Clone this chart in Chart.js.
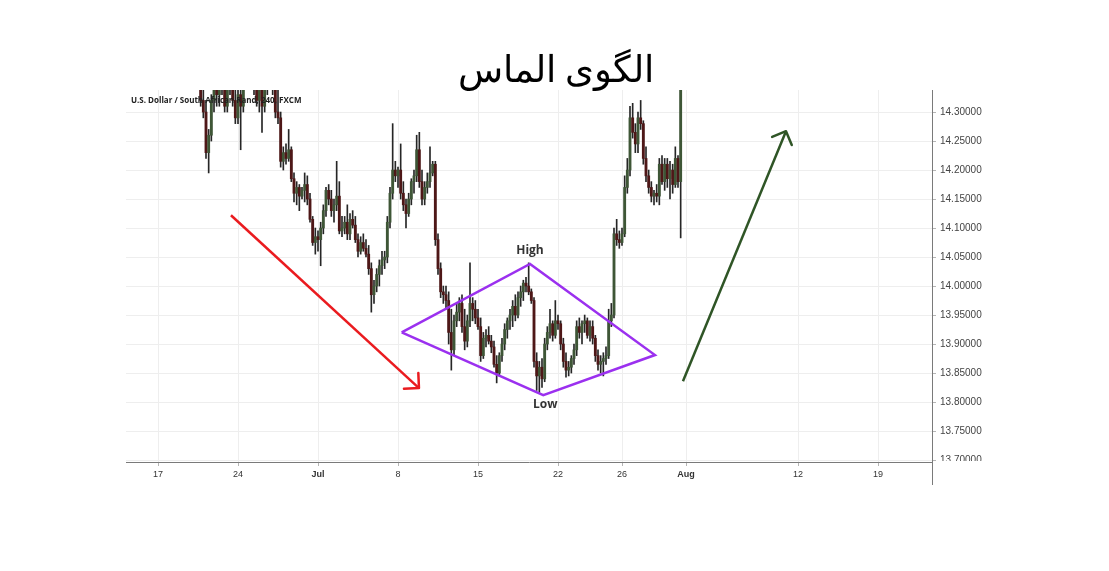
<!DOCTYPE html>
<html>
<head>
<meta charset="utf-8">
<script src="https://cdn.jsdelivr.net/npm/chart.js@4.4.1/dist/chart.umd.min.js"></script>
<style>
    html, body { margin: 0; padding: 0; background: #ffffff; }
    canvas { display: block; }
</style>
</head>
<body>
<canvas id="diamondChart" width="1109" height="571" style="width:1109px;height:571px"></canvas>
<script>
// ========== DADOS: USD/ZAR 4H (velas) ==========
const FIRST_BAR = 16;      // primeira vela = barra 16 contando de 17 jun
const BARS_PER_DAY = 6;    // velas de 4 horas por dia útil

const opens = [
    14.36, 14.32, 14.30, 14.23, 14.26, 14.32, 14.35, 14.33, 14.36, 14.34,
    14.31, 14.35, 14.37, 14.32, 14.29, 14.33, 14.31, 14.36, 14.38, 14.39,
    14.35, 14.37, 14.32, 14.34, 14.31, 14.34, 14.37, 14.39, 14.34, 14.30,
    14.29, 14.215, 14.23, 14.22, 14.235, 14.185, 14.16, 14.17, 14.155, 14.165,
    14.175, 14.15, 14.115, 14.075, 14.085, 14.08, 14.10, 14.13, 14.165, 14.15,
    14.13, 14.14, 14.155, 14.095, 14.10, 14.11, 14.09, 14.115, 14.105, 14.08,
    14.06, 14.075, 14.065, 14.055, 14.03, 13.985, 14.00, 14.02, 14.035, 14.045,
    14.05, 14.11, 14.16, 14.20, 14.19, 14.20, 14.16, 14.14, 14.125, 14.15,
    14.18, 14.19, 14.235, 14.18, 14.15, 14.17, 14.18, 14.195, 14.21, 14.08,
    14.03, 13.99, 13.985, 13.975, 13.92, 13.89, 13.94, 13.955, 13.97, 13.93,
    13.905, 13.94, 13.97, 13.96, 13.945, 13.93, 13.88, 13.91, 13.915, 13.905,
    13.895, 13.865, 13.85, 13.88, 13.90, 13.925, 13.94, 13.95, 13.965, 13.95,
    13.98, 13.99, 14.005, 14.00, 13.99, 13.975, 13.87, 13.845, 13.86, 13.84,
    13.90, 13.92, 13.935, 13.915, 13.94, 13.935, 13.90, 13.87, 13.855, 13.86,
    13.875, 13.89, 13.93, 13.92, 13.935, 13.94, 13.915, 13.93, 13.91, 13.88,
    13.865, 13.87, 13.875, 13.88, 13.94, 13.95, 14.09, 14.08, 14.075, 14.09,
    14.17, 14.20, 14.29, 14.265, 14.245, 14.29, 14.28, 14.22, 14.19, 14.17,
    14.155, 14.16, 14.155, 14.21, 14.18, 14.21, 14.185, 14.20, 14.175, 14.22,
    14.18
];
const highs = [
    14.40, 14.37, 14.32, 14.27, 14.33, 14.37, 14.39, 14.38, 14.40, 14.37,
    14.36, 14.39, 14.40, 14.36, 14.34, 14.35, 14.37, 14.40, 14.41, 14.42,
    14.39, 14.40, 14.36, 14.37, 14.35, 14.39, 14.41, 14.42, 14.37, 14.34,
    14.30, 14.24, 14.245, 14.27, 14.24, 14.195, 14.18, 14.175, 14.17, 14.195,
    14.19, 14.16, 14.12, 14.10, 14.095, 14.11, 14.14, 14.17, 14.175, 14.165,
    14.15, 14.215, 14.18, 14.12, 14.12, 14.14, 14.125, 14.13, 14.12, 14.09,
    14.085, 14.09, 14.08, 14.07, 14.04, 14.01, 14.03, 14.045, 14.06, 14.06,
    14.12, 14.17, 14.28, 14.215, 14.205, 14.245, 14.18, 14.15, 14.16, 14.185,
    14.20, 14.26, 14.265, 14.20, 14.18, 14.195, 14.24, 14.215, 14.215, 14.09,
    14.04, 14.00, 14.00, 13.99, 13.96, 13.95, 13.97, 13.98, 13.985, 13.96,
    13.95, 14.04, 13.98, 13.975, 13.96, 13.945, 13.92, 13.925, 13.93, 13.915,
    13.905, 13.88, 13.885, 13.91, 13.935, 13.945, 13.96, 13.975, 13.985, 13.99,
    14.00, 14.01, 14.015, 14.04, 13.995, 13.98, 13.885, 13.87, 13.875, 13.91,
    13.93, 13.96, 13.94, 13.975, 13.95, 13.94, 13.91, 13.885, 13.87, 13.88,
    13.90, 13.94, 13.945, 13.94, 13.95, 13.945, 13.94, 13.94, 13.915, 13.89,
    13.88, 13.885, 13.895, 13.96, 13.97, 14.10, 14.115, 14.095, 14.10, 14.19,
    14.22, 14.31, 14.315, 14.28, 14.30, 14.32, 14.285, 14.24, 14.20, 14.18,
    14.165, 14.175, 14.22, 14.225, 14.22, 14.22, 14.215, 14.21, 14.24, 14.225,
    14.40
];
const lows = [
    14.31, 14.29, 14.22, 14.195, 14.25, 14.30, 14.31, 14.31, 14.33, 14.30,
    14.30, 14.33, 14.31, 14.28, 14.28, 14.235, 14.30, 14.34, 14.35, 14.34,
    14.33, 14.31, 14.30, 14.265, 14.30, 14.33, 14.35, 14.33, 14.29, 14.28,
    14.205, 14.20, 14.21, 14.215, 14.18, 14.145, 14.14, 14.13, 14.15, 14.145,
    14.14, 14.11, 14.07, 14.055, 14.06, 14.035, 14.09, 14.12, 14.14, 14.12,
    14.11, 14.13, 14.09, 14.085, 14.09, 14.08, 14.08, 14.10, 14.075, 14.05,
    14.055, 14.06, 14.05, 14.02, 13.955, 13.97, 13.99, 14.00, 14.02, 14.03,
    14.04, 14.10, 14.15, 14.18, 14.17, 14.15, 14.13, 14.10, 14.12, 14.14,
    14.16, 14.18, 14.17, 14.14, 14.14, 14.16, 14.17, 14.19, 14.07, 14.02,
    13.98, 13.97, 13.96, 13.90, 13.855, 13.88, 13.93, 13.94, 13.92, 13.89,
    13.895, 13.93, 13.94, 13.935, 13.925, 13.87, 13.875, 13.895, 13.90, 13.885,
    13.86, 13.833, 13.845, 13.87, 13.89, 13.91, 13.925, 13.93, 13.94, 13.945,
    13.965, 13.975, 13.99, 13.985, 13.97, 13.86, 13.82, 13.816, 13.825, 13.835,
    13.89, 13.91, 13.905, 13.91, 13.925, 13.89, 13.86, 13.843, 13.845, 13.85,
    13.865, 13.88, 13.91, 13.90, 13.92, 13.91, 13.905, 13.90, 13.87, 13.855,
    13.85, 13.845, 13.865, 13.875, 13.93, 13.945, 14.07, 14.065, 14.07, 14.085,
    14.16, 14.19, 14.255, 14.23, 14.23, 14.27, 14.21, 14.18, 14.16, 14.145,
    14.14, 14.145, 14.14, 14.175, 14.165, 14.17, 14.15, 14.16, 14.17, 14.17,
    14.083
];
const closes = [
    14.32, 14.30, 14.23, 14.26, 14.32, 14.35, 14.33, 14.36, 14.34, 14.31,
    14.35, 14.37, 14.32, 14.29, 14.33, 14.31, 14.36, 14.38, 14.39, 14.35,
    14.37, 14.32, 14.34, 14.31, 14.34, 14.37, 14.39, 14.34, 14.30, 14.29,
    14.215, 14.23, 14.22, 14.235, 14.185, 14.16, 14.17, 14.155, 14.165, 14.175,
    14.15, 14.115, 14.075, 14.085, 14.08, 14.10, 14.13, 14.165, 14.15, 14.13,
    14.14, 14.155, 14.095, 14.10, 14.11, 14.09, 14.115, 14.105, 14.08, 14.06,
    14.075, 14.065, 14.055, 14.03, 13.985, 14.00, 14.02, 14.035, 14.045, 14.05,
    14.11, 14.16, 14.20, 14.19, 14.20, 14.16, 14.14, 14.125, 14.15, 14.18,
    14.19, 14.235, 14.18, 14.15, 14.17, 14.18, 14.195, 14.21, 14.08, 14.03,
    13.99, 13.985, 13.975, 13.92, 13.89, 13.94, 13.955, 13.97, 13.93, 13.905,
    13.94, 13.97, 13.96, 13.945, 13.93, 13.88, 13.91, 13.915, 13.905, 13.895,
    13.865, 13.85, 13.88, 13.90, 13.925, 13.94, 13.95, 13.965, 13.95, 13.98,
    13.99, 14.005, 14.00, 13.99, 13.975, 13.87, 13.845, 13.86, 13.84, 13.90,
    13.92, 13.935, 13.915, 13.94, 13.935, 13.90, 13.87, 13.855, 13.86, 13.875,
    13.89, 13.93, 13.92, 13.935, 13.94, 13.915, 13.93, 13.91, 13.88, 13.865,
    13.87, 13.875, 13.88, 13.94, 13.95, 14.09, 14.08, 14.075, 14.09, 14.17,
    14.20, 14.29, 14.265, 14.245, 14.29, 14.28, 14.22, 14.19, 14.17, 14.155,
    14.16, 14.155, 14.21, 14.18, 14.21, 14.185, 14.20, 14.175, 14.22, 14.18,
    14.36
];

// eixo X em dias úteis contados a partir de 17 jun
const tickDays = [0, 5, 10, 15, 20, 25, 29, 33, 40, 45];
const tickLabels = ['17', '24', 'Jul', '8', '15', '22', '26', 'Aug', '12', '19'];
const monthLabels = ['Jul', 'Aug'];
const priceTicks = [13.70, 13.75, 13.80, 13.85, 13.90, 13.95, 14.00, 14.05, 14.10, 14.15, 14.20, 14.25, 14.30];

// desenhos por cima do gráfico (dia útil, preço)
const redArrowX = [4.56, 16.31];
const redArrowY = [14.122, 13.824];
const diamondX = [15.23, 23.25, 31.06, 24.08, 15.23];
const diamondY = [13.920, 14.038, 13.881, 13.812, 13.920];
const greenArrowX = [32.81, 39.25];
const greenArrowY = [13.836, 14.267];

const TITLE = 'الگوی الماس';
const SOURCE = 'U.S. Dollar / South African Rand, 240, FXCM';

const COLORS = {
    up: '#3e5636',
    down: '#4e1717',
    wick: '#262626',
    red: '#ea1b1f',
    purple: '#9b30ef',
    green: '#2f5526',
    grid: '#eeeeee',
    axis: '#7a7a7a',
    text: '#333333'
};

const barX = k => (FIRST_BAR + k) / BARS_PER_DAY;
const toPoints = (xs, ys) => xs.map((x, i) => ({ x: x, y: ys[i] }));

// ========== PLUGINS ==========
const decorPlugin = {
    id: 'decor',
    afterDatasetsDraw(chart) {
        const ctx = chart.ctx;
        const area = chart.chartArea;
        ctx.save();

        // pontas das setas
        chart.data.datasets.forEach((ds, i) => {
            if (!ds.arrow) return;
            const pts = chart.getDatasetMeta(i).data;
            const a = pts[pts.length - 2], b = pts[pts.length - 1];
            const ang = Math.atan2(b.y - a.y, b.x - a.x);
            const len = 15;
            ctx.strokeStyle = ds.borderColor;
            ctx.lineWidth = ds.borderWidth;
            ctx.lineCap = 'round';
            ctx.lineJoin = 'round';
            ctx.beginPath();
            ctx.moveTo(b.x - len * Math.cos(ang - Math.PI / 4), b.y - len * Math.sin(ang - Math.PI / 4));
            ctx.lineTo(b.x, b.y);
            ctx.lineTo(b.x - len * Math.cos(ang + Math.PI / 4), b.y - len * Math.sin(ang + Math.PI / 4));
            ctx.stroke();
        });

        // rótulos High / Low no losango
        const dIdx = chart.data.datasets.findIndex(ds => ds.diamond);
        if (dIdx >= 0) {
            const pts = chart.getDatasetMeta(dIdx).data;
            ctx.fillStyle = COLORS.text;
            ctx.font = 'bold 12px "Open Sans", "DejaVu Sans", sans-serif';
            ctx.textAlign = 'center';
            ctx.textBaseline = 'middle';
            ctx.fillText('High', pts[1].x, pts[1].y - 13);
            ctx.fillText('Low', pts[3].x + 2, pts[3].y + 10);
        }

        // nome do ativo
        ctx.fillStyle = '#222222';
        ctx.font = 'bold 8px "Open Sans", sans-serif';
        ctx.textAlign = 'left';
        ctx.textBaseline = 'middle';
        ctx.fillText(SOURCE, area.left + 5, area.top + 11);
        ctx.restore();
    },
    afterDraw(chart) {
        const ctx = chart.ctx;
        const area = chart.chartArea;
        ctx.save();
        // título
        ctx.fillStyle = '#000000';
        ctx.font = '37px "Times New Roman", "DejaVu Serif", serif';
        ctx.textAlign = 'center';
        ctx.textBaseline = 'alphabetic';
        ctx.fillText(TITLE, (area.left + area.right) / 2 + 27, 82);

        // rótulo 13.70000 cortado pelo eixo
        ctx.fillStyle = '#ffffff';
        ctx.fillRect(area.right + 7, area.bottom - 1, 90, 12);

        // prolongamento do eixo de preço abaixo do eixo de tempo
        ctx.strokeStyle = COLORS.axis;
        ctx.lineWidth = 1;
        ctx.beginPath();
        ctx.moveTo(Math.round(area.right) + 0.5, area.bottom);
        ctx.lineTo(Math.round(area.right) + 0.5, area.bottom + 23);
        ctx.stroke();
        ctx.restore();
    }
};

// ========== GRÁFICO ==========
function createDiamondChart() {
    const el = document.getElementById('diamondChart');
    const xs = opens.map((_, k) => barX(k));

    new Chart(el, {
        type: 'bar',
        data: {
            datasets: [{
                label: 'wicks',
                data: xs.map((x, k) => ({ x: x, y: [lows[k], highs[k]] })),
                backgroundColor: COLORS.wick,
                barThickness: 1,
                grouped: false,
                clip: 0,
                order: 3
            }, {
                label: 'bodies',
                data: xs.map((x, k) => ({ x: x, y: [opens[k], closes[k]] })),
                backgroundColor: c => closes[c.dataIndex] >= opens[c.dataIndex] ? COLORS.up : COLORS.down,
                barThickness: 2.2,
                grouped: false,
                clip: 0,
                order: 2
            }, {
                type: 'line',
                label: 'down',
                data: toPoints(redArrowX, redArrowY),
                borderColor: COLORS.red,
                borderWidth: 2.5,
                pointRadius: 0,
                tension: 0,
                clip: false,
                arrow: true,
                order: 1
            }, {
                type: 'line',
                label: 'diamond',
                data: toPoints(diamondX, diamondY),
                borderColor: COLORS.purple,
                borderWidth: 2.5,
                borderJoinStyle: 'miter',
                pointRadius: 0,
                tension: 0,
                clip: false,
                diamond: true,
                order: 1
            }, {
                type: 'line',
                label: 'up',
                data: toPoints(greenArrowX, greenArrowY),
                borderColor: COLORS.green,
                borderWidth: 2.5,
                pointRadius: 0,
                tension: 0,
                clip: false,
                arrow: true,
                order: 1
            }]
        },
        options: {
            responsive: false,
            animation: false,
            layout: { padding: { left: 126, right: 97, top: 90, bottom: 79 } },
            plugins: {
                legend: { display: false },
                tooltip: { enabled: false },
                title: { display: false }
            },
            scales: {
                x: {
                    type: 'linear',
                    offset: false,
                    min: -2,
                    max: 48.375,
                    afterBuildTicks: s => { s.ticks = tickDays.map(v => ({ value: v })); },
                    afterFit: s => { s.height = 30; },
                    ticks: {
                        autoSkip: false,
                        maxRotation: 0,
                        padding: 3,
                        color: COLORS.text,
                        font: c => {
                            const lbl = c.tick ? tickLabels[tickDays.indexOf(c.tick.value)] : '';
                            return {
                                family: '"Liberation Sans", Arial, sans-serif',
                                size: 9,
                                weight: monthLabels.includes(lbl) ? 'bold' : 'normal'
                            };
                        },
                        callback: v => tickLabels[tickDays.indexOf(v)]
                    },
                    grid: {
                        offset: false,
                        color: COLORS.grid,
                        tickColor: '#b5b5b5',
                        tickLength: 4
                    },
                    border: { color: COLORS.axis, width: 1 }
                },
                y: {
                    type: 'linear',
                    position: 'right',
                    min: 13.6966,
                    max: 14.338,
                    afterBuildTicks: s => { s.ticks = priceTicks.map(v => ({ value: v })); },
                    afterFit: s => { s.width = 80; },
                    ticks: {
                        padding: 4,
                        color: '#444444',
                        font: { family: '"Liberation Sans", Arial, sans-serif', size: 10 },
                        callback: v => v.toFixed(5)
                    },
                    grid: {
                        color: COLORS.grid,
                        tickColor: '#b5b5b5',
                        tickLength: 4
                    },
                    border: { color: COLORS.axis, width: 1 }
                }
            }
        },
        plugins: [decorPlugin]
    });
}

document.addEventListener('DOMContentLoaded', createDiamondChart);
</script>
</body>
</html>
